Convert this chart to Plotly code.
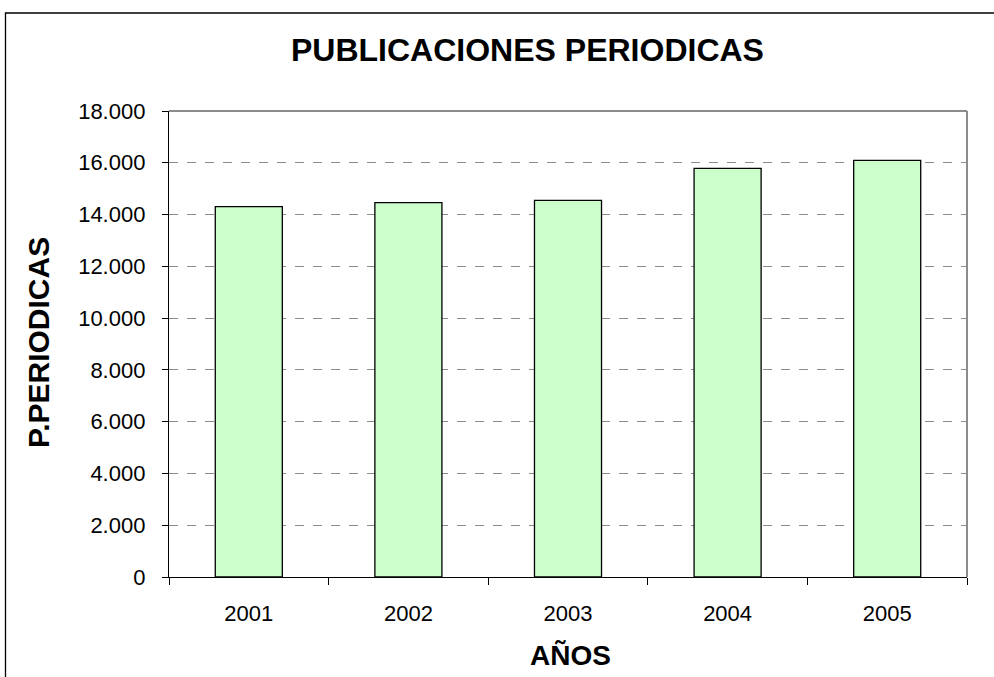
import plotly.graph_objects as go

years = ["2001", "2002", "2003", "2004", "2005"]
values = [14310, 14460, 14550, 15780, 16090]
y_ticks = [0, 2000, 4000, 6000, 8000, 10000, 12000, 14000, 16000, 18000]

W, H = 994, 677
L, R, T, B = 169, 994 - 967, 111, 677 - 577
pw = W - L - R
ph = H - T - B

def px(x):
    return (x - L) / pw

def py(y):
    return (H - B - y) / ph

fig = go.Figure()
fig.add_trace(go.Bar(
    x=years, y=values,
    marker=dict(color="#CCFFCC", line=dict(color="black", width=1.3)),
    width=0.42,
))

fig.update_layout(
    width=W, height=H,
    margin=dict(l=L, r=R, t=T, b=B, pad=0),
    paper_bgcolor="white", plot_bgcolor="white",
    separators=",.",
    showlegend=False,
    font=dict(family="Arial, Liberation Sans, sans-serif", color="black", size=22),
    xaxis=dict(showline=True, linecolor="black", linewidth=1.3,
               ticks="outside", tickson="boundaries", ticklen=7, tickcolor="black",
               showgrid=False, ticklabelstandoff=16, tickfont=dict(size=22)),
    yaxis=dict(range=[0, 18000], tickvals=y_ticks, tickformat=",d", separatethousands=True,
               showline=True, linecolor="black", linewidth=1.3,
               ticks="outside", ticklen=6, tickcolor="black",
               showgrid=True, gridcolor="#8c8c8c", griddash="dash", gridwidth=1,
               zeroline=False, ticklabelstandoff=12, tickfont=dict(size=22)),
)

# plot area top/right gray border
fig.add_shape(type="line", xref="paper", yref="paper", x0=0, x1=1, y0=1, y1=1,
              line=dict(color="#8c8c8c", width=2))
fig.add_shape(type="line", xref="paper", yref="paper", x0=1, x1=1, y0=0, y1=1,
              line=dict(color="#8c8c8c", width=2))
# chart outer border
fig.add_shape(type="rect", xref="paper", yref="paper",
              x0=px(5.5), x1=px(1000), y0=py(690), y1=py(13),
              line=dict(color="black", width=1.3), fillcolor="rgba(0,0,0,0)", layer="below")

fig.add_annotation(text="<b>PUBLICACIONES PERIODICAS</b>", xref="paper", yref="paper",
                   x=px(527), y=py(50), showarrow=False,
                   font=dict(size=32, color="black"), xanchor="center", yanchor="middle")
fig.add_annotation(text="<b>P.PERIODICAS</b>", xref="paper", yref="paper",
                   x=px(38), y=py(343), textangle=-90, showarrow=False,
                   font=dict(size=30, color="black"), xanchor="center", yanchor="middle")
fig.add_annotation(text="<b>AÑOS</b>", xref="paper", yref="paper",
                   x=px(570), y=py(655), showarrow=False,
                   font=dict(size=28, color="black"), xanchor="center", yanchor="middle")

fig.write_html("out.html", post_script="document.body.style.margin='0';",
               config={"displayModeBar": False})
